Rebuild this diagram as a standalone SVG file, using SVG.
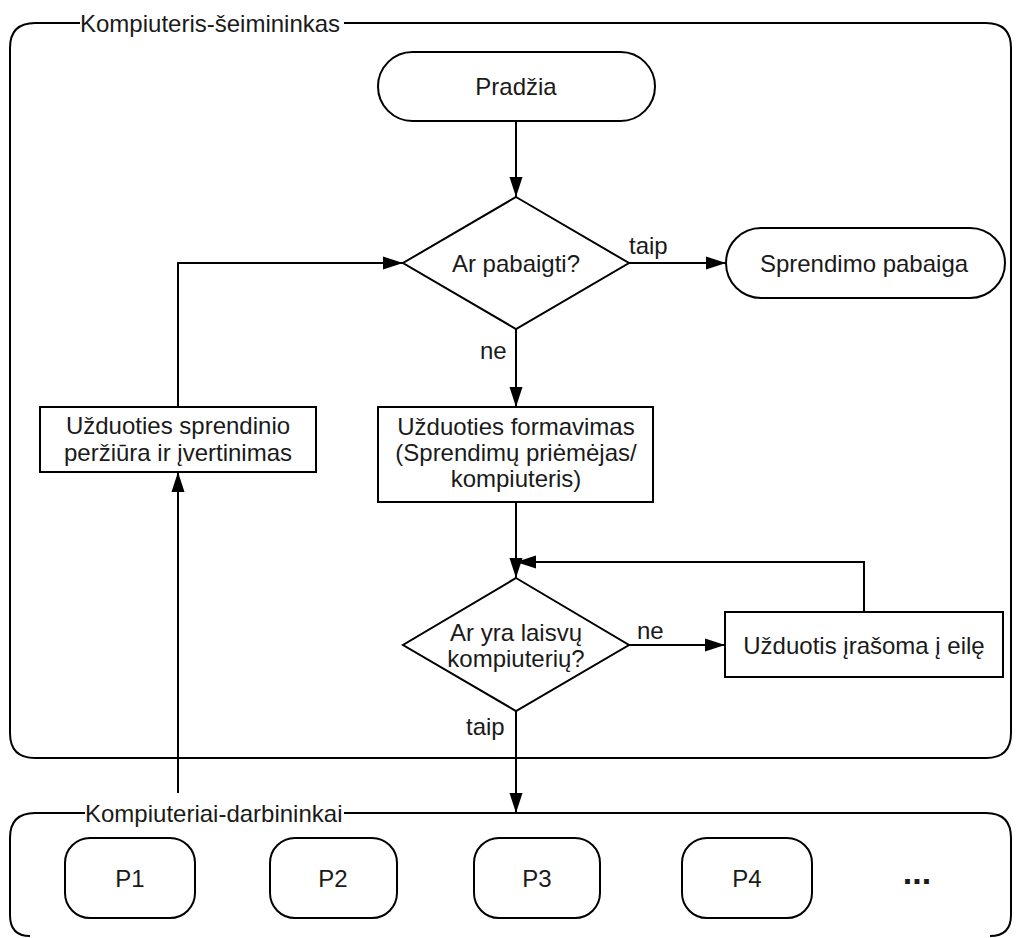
<svg xmlns="http://www.w3.org/2000/svg" width="1017" height="938" viewBox="0 0 1017 938">
<style>
.s{fill:#fff;stroke:#000;stroke-width:2}
.c{fill:none;stroke:#000;stroke-width:2}
.t{font-family:"Liberation Sans",Arial,sans-serif;font-size:24px;fill:#1a1a1a;text-anchor:middle;dominant-baseline:central}
.l{font-family:"Liberation Sans",Arial,sans-serif;font-size:24px;fill:#1a1a1a;dominant-baseline:central}
</style>
<defs>
<marker id="a" markerWidth="20" markerHeight="14" refX="20" refY="7" orient="auto" markerUnits="userSpaceOnUse">
<path d="M0,0.5 L20,7 L0,13.5 Z" fill="#000"/>
</marker>
</defs>
<rect width="1017" height="938" fill="#fff"/>
<g id="container-host">
<path class="c" d="M80,23 H35 Q10,23 10,48 V733 Q10,758 35,758 H986 Q1011,758 1011,733 V48 Q1011,23 986,23 H344"/>
<text class="l" x="80" y="23">Kompiuteris-šeimininkas</text>
</g>
<g id="container-workers">
<path class="c" d="M85,813 H35 Q10,813 10,838 V915 Q10,936 30,936 M990,936 Q1011,936 1011,915 V838 Q1011,813 986,813 H344"/>
<text class="l" x="85" y="813">Kompiuteriai-darbininkai</text>
</g>
<g id="start">
<rect class="s" x="378" y="52" width="277" height="69" rx="34.5"/>
<text class="t" x="516" y="86">Pradžia</text>
</g>
<g id="dec-end">
<polygon class="s" points="516,197 629,263 516,329 403,263"/>
<text class="t" x="516" y="263">Ar pabaigti?</text>
</g>
<g id="end">
<rect class="s" x="726" y="228" width="279" height="70" rx="35"/>
<text class="t" x="864" y="263">Sprendimo pabaiga</text>
</g>
<g id="review">
<rect class="s" x="40" y="407" width="276" height="65"/>
<text class="t" x="178" y="425">Užduoties sprendinio</text>
<text class="t" x="178" y="452">peržiūra ir įvertinimas</text>
</g>
<g id="form">
<rect class="s" x="378" y="407" width="275" height="95"/>
<text class="t" x="516" y="426">Užduoties formavimas</text>
<text class="t" x="516" y="452">(Sprendimų priėmėjas/</text>
<text class="t" x="516" y="478">kompiuteris)</text>
</g>
<g id="dec-free">
<polygon class="s" points="516,578 629,645 516,711 403,645"/>
<text class="t" x="516" y="632">Ar yra laisvų</text>
<text class="t" x="516" y="658">kompiuterių?</text>
</g>
<g id="queue">
<rect class="s" x="725" y="612" width="278" height="65"/>
<text class="t" x="864" y="645">Užduotis įrašoma į eilę</text>
</g>
<g id="p1"><rect class="s" x="65" y="838" width="130" height="80" rx="25"/><text class="t" x="130" y="878">P1</text></g>
<g id="p2"><rect class="s" x="270" y="838" width="127" height="80" rx="25"/><text class="t" x="333" y="878">P2</text></g>
<g id="p3"><rect class="s" x="474" y="838" width="126" height="80" rx="25"/><text class="t" x="537" y="878">P3</text></g>
<g id="p4"><rect class="s" x="682" y="838" width="130" height="80" rx="25"/><text class="t" x="747" y="878">P4</text></g>
<g id="more"><text class="t" x="917" y="872" style="font-size:34px;font-weight:bold">...</text></g>
<g id="connectors">
<path class="c" d="M516,121 V197" marker-end="url(#a)"/>
<path class="c" d="M629,263 H726" marker-end="url(#a)"/>
<text class="l" x="629" y="245">taip</text>
<path class="c" d="M516,329 V407" marker-end="url(#a)"/>
<text class="l" x="480" y="350">ne</text>
<path class="c" d="M178,407 V263 H403" marker-end="url(#a)"/>
<path class="c" d="M516,502 V578" marker-end="url(#a)"/>
<path class="c" d="M629,645 H725" marker-end="url(#a)"/>
<text class="l" x="637" y="630">ne</text>
<path class="c" d="M864,612 V562 H516" marker-end="url(#a)"/>
<path class="c" d="M516,711 V813" marker-end="url(#a)"/>
<text class="l" x="466" y="726">taip</text>
<path class="c" d="M178,793 V472" marker-end="url(#a)"/>
</g>
</svg>
